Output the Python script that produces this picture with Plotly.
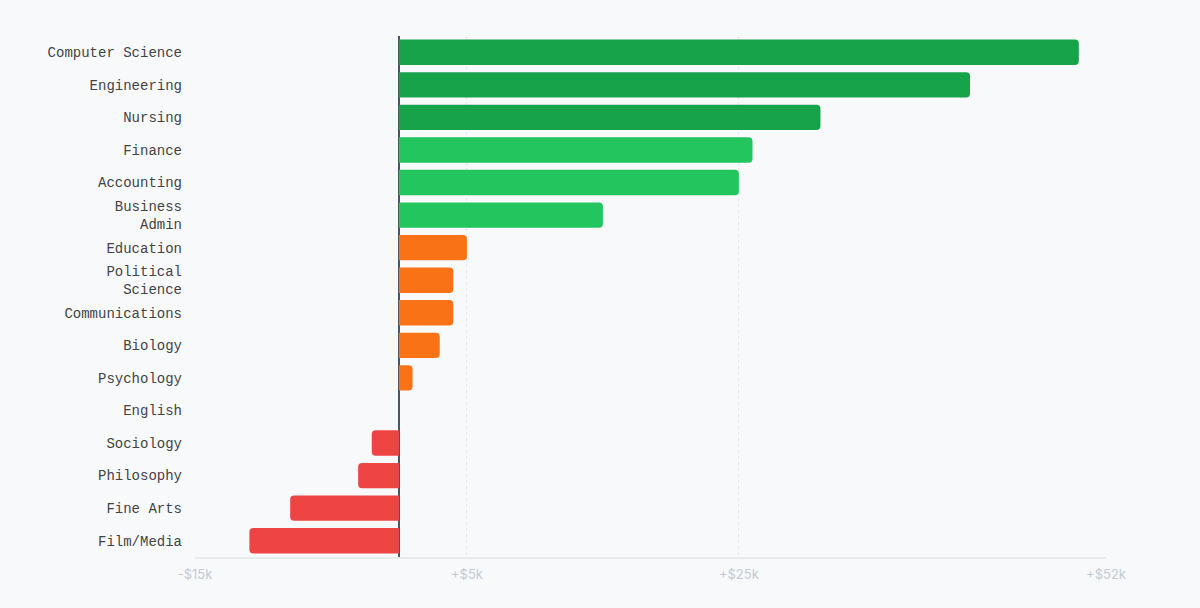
import plotly.graph_objects as go

majors = ["Computer Science", "Engineering", "Nursing", "Finance", "Accounting",
          "Business<br>Admin", "Education", "Political<br>Science", "Communications",
          "Biology", "Psychology", "English", "Sociology", "Philosophy", "Fine Arts",
          "Film/Media"]
premium = [50000, 42000, 31000, 26000, 25000, 15000, 5000, 4000, 4000, 3000, 1000,
           0, -2000, -3000, -8000, -11000]
bar_colors = ["#16a34a", "#16a34a", "#16a34a", "#22c55e", "#22c55e", "#22c55e",
              "#f97316", "#f97316", "#f97316", "#f97316", "#f97316", "#f97316",
              "#ef4444", "#ef4444", "#ef4444", "#ef4444"]
tick_vals = [-15000, 5000, 25000, 52000]
tick_text = ["-$15k", "+$5k", "+$25k", "+$52k"]

BG = "#f8f9fb"

fig = go.Figure(go.Bar(
    x=premium, y=majors, orientation="h",
    marker=dict(color=bar_colors, cornerradius=4, line=dict(width=0)),
))

# page has an 8px body margin, so margins are shifted to land where the original did
fig.update_layout(
    width=1200, height=608,
    margin=dict(l=187, r=102, t=28, b=59),
    paper_bgcolor=BG, plot_bgcolor=BG,
    bargap=0.22, showlegend=False,
    font=dict(family="Liberation Mono, monospace", size=14, color="#444"),
)
fig.update_xaxes(
    range=[-15000, 52000], tickvals=tick_vals, ticktext=tick_text,
    tickfont=dict(family="Inter, sans-serif", size=13, color="#c4c9d2"),
    showgrid=True, gridcolor="#e3e6eb", griddash="dot", gridwidth=1,
    zeroline=True, zerolinecolor="#4b5563", zerolinewidth=2,
    showline=True, linecolor="#e8eaee", linewidth=2, ticks="", ticklabelstandoff=4,
)
fig.update_yaxes(
    categoryorder="array", categoryarray=majors, autorange="reversed",
    ticks="", ticklabelstandoff=12, showgrid=False,
    tickfont=dict(family="Liberation Mono, monospace", size=14, color="#444"),
)

fig.write_html("out.html", post_script=f"document.body.style.backgroundColor='{BG}';")
